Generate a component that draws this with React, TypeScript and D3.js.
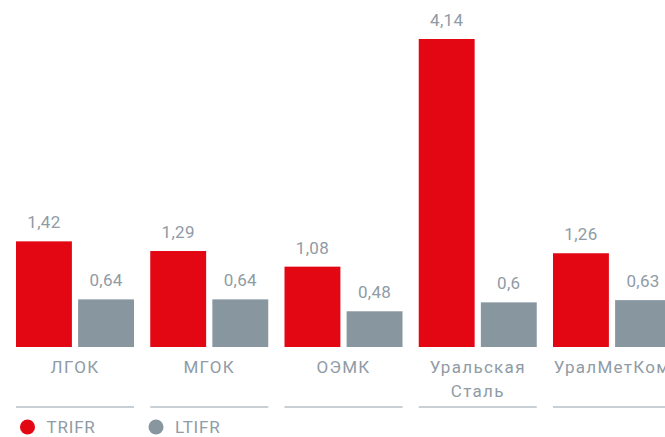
import React from "react";
import * as d3 from "d3";

const categories = ["ЛГОК", "МГОК", "ОЭМК", "Уральская Сталь", "УралМетКом"];
const categoryLines = [["ЛГОК"], ["МГОК"], ["ОЭМК"], ["Уральская", "Сталь"], ["УралМетКом"]];
const series = ["TRIFR", "LTIFR"];
const trifr = [1.42, 1.29, 1.08, 4.14, 1.26];
const ltifr = [0.64, 0.64, 0.48, 0.6, 0.63];
const colors = ["#e30613", "#8896a0"];

const W = 665;
const H = 437;
const baseY = 347;

export default function App() {
  const x0 = d3.scaleBand<string>().domain(categories).range([16, 671]).paddingInner(0.121).paddingOuter(0);
  const x1 = d3.scaleBand<string>().domain(series).range([0, x0.bandwidth()]).paddingInner(0.1).paddingOuter(0);
  const y = d3.scaleLinear().domain([0, 4.14]).range([baseY, 39]);
  const fmt = (v: number) => String(v).replace(".", ",");
  const font = "Roboto, 'Noto Sans', sans-serif";
  const values = [trifr, ltifr];
  const txt = "#8f9ba5";

  return (
    <svg width={W} height={H} style={{ position: "absolute", left: 0, top: 0 }} fontFamily={font}>
      <rect width={W} height={H} fill="#fff" />
      {categories.map((c, i) => {
        const gx = x0(c)!;
        return (
          <g key={c} transform={`translate(${gx},0)`}>
            {series.map((s, si) => {
              const v = values[si][i];
              const bx = x1(s)!;
              return (
                <g key={s}>
                  <rect x={bx} y={y(v)} width={x1.bandwidth()} height={baseY - y(v)} fill={colors[si]} />
                  <text x={bx + x1.bandwidth() / 2} y={y(v) - 13} textAnchor="middle" fontSize={17} letterSpacing={0.3} fill={txt}>
                    {fmt(v)}
                  </text>
                </g>
              );
            })}
            {categoryLines[i].map((ln, li) => (
              <text key={li} x={x0.bandwidth() / 2} y={373 + li * 24} textAnchor="middle" fontSize={17} letterSpacing={1.3} fill={txt}>
                {ln}
              </text>
            ))}
            <line x1={0} x2={x0.bandwidth()} y1={407} y2={407} stroke="#c8cfd5" strokeWidth={2} />
          </g>
        );
      })}
      {series.map((s, si) => (
        <g key={s} transform={`translate(${27.5 + si * 128.5},427)`}>
          <circle r={7.5} fill={colors[si]} />
          <text x={19} y={6} fontSize={17} letterSpacing={0.8} fill={txt}>{s}</text>
        </g>
      ))}
    </svg>
  );
}
